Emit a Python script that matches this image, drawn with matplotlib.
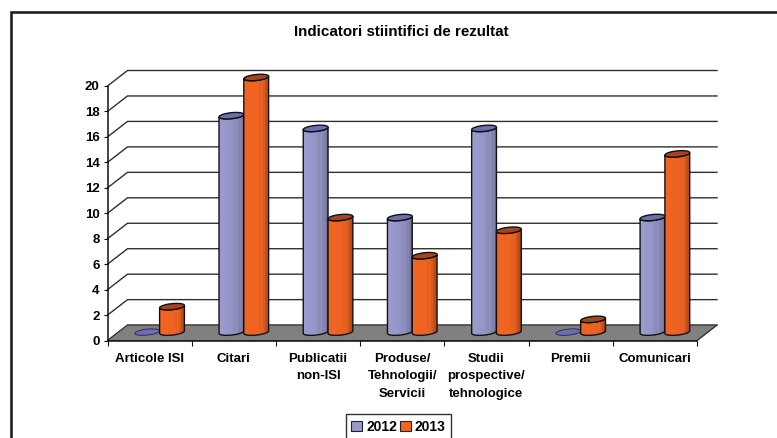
import numpy as np
import matplotlib
matplotlib.use("Agg")
import matplotlib.pyplot as plt
from matplotlib.path import Path
from matplotlib.patches import PathPatch, Polygon, Patch
from matplotlib.lines import Line2D
from matplotlib.colors import to_rgb

categories = ["Articole ISI", "Citari", "Publicatii\nnon-ISI", "Produse/\nTehnologii/\nServicii",
              "Studii\nprospective/\ntehnologice", "Premii", "Comunicari"]
values_2012 = [0, 17, 16, 9, 16, 0, 9]
values_2013 = [2, 20, 9, 6, 8, 1, 14]
series_labels = ["2012", "2013"]
y_ticks = list(range(0, 21, 2))
title = "Indicatori stiintifici de rezultat"

plt.rcParams["font.family"] = ["Liberation Sans", "DejaVu Sans"]
plt.rcParams["font.weight"] = "bold"
W, H = 777, 438
fig = plt.figure(figsize=(W / 100, H / 100), dpi=100, facecolor="white")
L, R, T, B = 107.5, 697.0, 86.0, 340.6
ax = fig.add_axes([L / W, (H - B) / H, (R - L) / W, (B - T) / H])
ax.set_xlim(0, 7)
ax.set_ylim(0, 20)
ax.patch.set_visible(False)
px = 7 / (R - L)
py = 20 / (B - T)
DX, DY = 20 * px, 15.5 * py
BX, BY = 10 * px, 8.5 * py

for s in ("top", "right"):
    ax.spines[s].set_visible(False)
for s in ("left", "bottom"):
    ax.spines[s].set_linewidth(1.1)
    ax.spines[s].set_color("#111111")
ax.set_yticks(y_ticks)
ax.set_xticks(range(8))
ax.set_xticklabels([])
ax.set_xticks(np.arange(7) + 0.5, categories, minor=True)
ax.tick_params(axis="x", which="major", length=3.6, width=0.8, color="#111111")
ax.tick_params(axis="x", which="minor", length=0, pad=9, labelsize=9.5)
ax.tick_params(axis="y", length=3, width=0.8, pad=2.6, labelsize=9.5, color="#111111")
for t in ax.get_xticklabels(minor=True):
    t.set_linespacing(1.58)
    t.set_verticalalignment("top")

# floor
ax.add_patch(Polygon([(0, 0), (7, 0), (7 + DX, DY), (DX, DY)], closed=True, facecolor="#808080",
                     edgecolor="#333333", lw=0.7, zorder=1, clip_on=False))
# walls
for v in y_ticks:
    ax.plot([0, DX, 7 + DX], [v, v + DY, v + DY], color="#303030", lw=1.0, zorder=0.5,
            clip_on=False, solid_joinstyle="miter")
ax.plot([7, 7 + DX], [0, DY], color="#333333", lw=0.8, zorder=1.1, clip_on=False)


def ramp(c, stops):
    xs = np.linspace(0, 1, 60)
    base = np.array(to_rgb(c))
    f = np.interp(xs, [s[0] for s in stops], [s[1] for s in stops])
    img = np.clip(base[None, :] * f[:, None], 0, 1)
    return img[None, :, :]


STOPS = {
    0: [(0, 1.02), (0.45, 0.98), (0.7, 0.9), (0.72, 1.02), (0.76, 0.88), (0.9, 0.85), (1, 0.68)],
    1: [(0, 1.0), (0.6, 0.98), (0.68, 0.92), (0.7, 1.02), (0.8, 0.88), (0.82, 0.96), (0.84, 0.82), (1, 0.72)],
}
FACE = ["#9999cc", "#f26522"]
TOP = ["#6d6db2", "#a8441c"]
a = 12.4 * px
b = 3.0 * py
shear = 0.1 * py / px


def ellipse(cx, cy, half=False, k=1.0):
    t = np.linspace(np.pi, 2 * np.pi, 30) if half else np.linspace(0, 2 * np.pi, 61)
    return np.c_[cx + k * a * np.cos(t), cy + b * np.sin(t) + shear * k * a * np.cos(t)]


idx = np.arange(7)
w = 2 * a
for s, vals in enumerate([values_2012, values_2013]):
    centers = idx + 0.5 + BX + (s - 0.5) * w
    ax.bar(centers, vals, width=w * 0.98, bottom=BY, color=FACE[s], linewidth=0,
           zorder=2 + s * 0.1, label=series_labels[s], clip_on=False)
for i in idx:
    for s, vals in enumerate([values_2012, values_2013]):
        z = 3 + i + s * 0.1
        v = vals[i]
        cx = i + 0.5 + BX + (s - 0.5) * w
        y0 = BY
        y1 = BY + v
        if v == 0:
            ax.add_patch(Polygon(ellipse(cx, y0), closed=True, facecolor=TOP[s], edgecolor="#222244",
                                 lw=0.6, zorder=z))
            continue
        bottom = ellipse(cx, y0, half=True)
        top = ellipse(cx, y1, half=True)[::-1]
        pts = np.vstack([bottom, top, bottom[:1]])
        ax.add_patch(PathPatch(Path(pts, closed=True), facecolor="none", edgecolor="#111111", lw=1.0,
                               zorder=z + 0.02, clip_on=False))
        im = ax.imshow(ramp(FACE[s], STOPS[s]), extent=[cx - a, cx + a, y0 - b * 1.5, y1 + b * 1.5],
                       aspect="auto", zorder=z, interpolation="bilinear")
        im.set_clip_box(fig.bbox)
        im.set_clip_path(PathPatch(Path(pts, closed=True), transform=ax.transData))
        ax.add_patch(Polygon(ellipse(cx, y1), closed=True, facecolor=TOP[s], edgecolor="#111111",
                             lw=1.0, zorder=z + 0.03, clip_on=False))
ax.set_xlim(0, 7)
ax.set_ylim(0, 20)
for sp in ax.spines.values():
    sp.set_zorder(20)

fig.text(401.5 / W, (H - 32) / H, title, ha="center", va="center", fontsize=10.9, fontweight="bold")

# outer frame
fig.add_artist(Line2D([11 / W, 11 / W, 1], [0, (H - 12) / H, (H - 12) / H], color="#222222", lw=1.9,
                      solid_joinstyle="miter"))

handles = [Patch(facecolor=FACE[k], edgecolor="#222222", lw=0.8) for k in range(2)]
leg = fig.legend(handles, series_labels, ncol=2, loc="center", bbox_to_anchor=(398.6 / W, (H - 427) / H),
                 fontsize=10, frameon=True, fancybox=False, edgecolor="#333333", framealpha=1,
                 handlelength=0.75, handleheight=0.75, handletextpad=0.3, columnspacing=0.25,
                 borderpad=0.4, borderaxespad=0)
leg.get_frame().set_linewidth(1.0)

fig.savefig("out.png", dpi=100)
